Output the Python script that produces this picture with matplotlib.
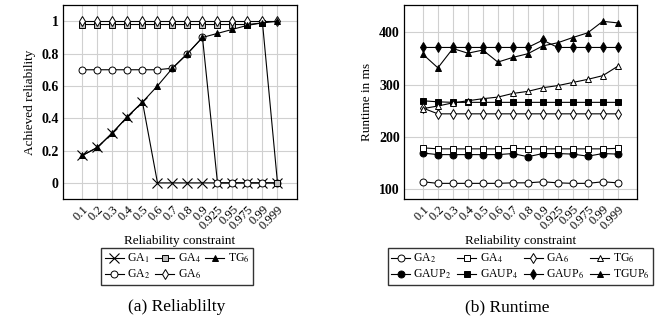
import matplotlib
matplotlib.use('Agg')
import matplotlib.pyplot as plt

plt.rcParams['font.family'] = ['Liberation Serif', 'DejaVu Serif']
plt.rcParams['mathtext.fontset'] = 'stix'

constraints = ['0.1', '0.2', '0.3', '0.4', '0.5', '0.6', '0.7', '0.8', '0.9',
               '0.925', '0.95', '0.975', '0.99', '0.999']

# achieved reliability
ga1_rel = [0.17, 0.22, 0.31, 0.41, 0.5, 0, 0, 0, 0, 0, 0, 0, 0, 0]
ga2_rel = [0.7, 0.7, 0.7, 0.7, 0.7, 0.7, 0.71, 0.8, 0.9, 0, 0, 0, 0, 0]
ga4_rel = [0.98, 0.98, 0.98, 0.98, 0.98, 0.98, 0.98, 0.98, 0.98, 0.98, 0.98, 0.98, 0.99, 0]
ga6_rel = [1, 1, 1, 1, 1, 1, 1, 1, 1, 1, 1, 1, 1, 1]
tg6_rel = [0.17, 0.22, 0.31, 0.41, 0.5, 0.6, 0.71, 0.8, 0.9, 0.925, 0.95, 0.975, 0.99, 1.0]

# runtime in ms
ga2_rt = [114, 111, 111, 111, 111, 111, 112, 112, 114, 112, 111, 111, 114, 112]
ga4_rt = [179, 177, 177, 177, 177, 177, 178, 177, 177, 177, 177, 177, 177, 178]
ga6_rt = [255, 244, 244, 244, 244, 244, 244, 244, 244, 244, 244, 244, 244, 244]
tg6_rt = [254, 259, 265, 269, 273, 276, 283, 287, 294, 298, 304, 310, 317, 335]
gaup2_rt = [169, 166, 166, 166, 166, 166, 168, 162, 168, 168, 167, 163, 168, 167]
gaup4_rt = [269, 267, 266, 266, 266, 266, 266, 266, 266, 266, 266, 266, 266, 266]
gaup6_rt = [371, 371, 371, 371, 371, 371, 371, 371, 385, 371, 371, 371, 371, 371]
tgup6_rt = [358, 332, 369, 360, 366, 343, 352, 359, 374, 380, 390, 399, 421, 418]

x = list(range(len(constraints)))
lw = 0.8
ms = 5

fig = plt.figure(figsize=(6.61, 3.2), dpi=100)
ax1 = fig.add_axes([0.0953, 0.378, 0.354, 0.606])
ax2 = fig.add_axes([0.611, 0.378, 0.353, 0.606])


def style(ax):
    ax.grid(True, color='#d0d0d0', linewidth=0.8)
    ax.set_axisbelow(True)
    ax.set_xticks(x)
    ax.set_xticklabels(constraints, rotation=45, ha='right', rotation_mode='anchor', fontsize=9)
    ax.tick_params(length=0, pad=3)
    for lab in ax.get_yticklabels():
        lab.set_fontweight('bold')
        lab.set_fontsize(10)
    for s in ax.spines.values():
        s.set_linewidth(0.9)
    ax.set_xlabel('Reliability constraint', fontsize=9.5, labelpad=2)


l1, = ax1.plot(x, ga1_rel, color='black', lw=lw, marker='x', ms=7.5, mew=0.8, label='GA$_1$')
l2, = ax1.plot(x, ga2_rel, color='black', lw=lw, marker='o', ms=ms, mfc='white', mew=0.7, label='GA$_2$')
l3, = ax1.plot(x, ga4_rel, color='black', lw=lw, marker='s', ms=ms, mfc='#bfbfbf', mew=0.7, label='GA$_4$')
l4, = ax1.plot(x, ga6_rel, color='black', lw=lw, marker='d', ms=ms, mfc='white', mew=0.7, label='GA$_6$')
l5, = ax1.plot(x, tg6_rel, color='black', lw=lw, marker='^', ms=ms, mfc='black', mew=0.7, label='TG$_6$')
ax1.set_xlim(-1.3, 14.3)
ax1.set_ylim(-0.1, 1.1)
ax1.set_yticks([0, 0.2, 0.4, 0.6, 0.8, 1])
ax1.set_yticklabels(['0', '0.2', '0.4', '0.6', '0.8', '1'])
ax1.set_ylabel('Achieved reliability', fontsize=9.5, labelpad=4)
style(ax1)
fig.legend(handles=[l1, l2, l3, l4, l5], ncol=3, loc='center', bbox_to_anchor=(0.268, 0.167),
           fontsize=8.5, frameon=True, fancybox=False, edgecolor='black', columnspacing=0.4,
           handlelength=1.6, handletextpad=0.3, borderpad=0.3, labelspacing=0.2)

r1, = ax2.plot(x, ga2_rt, color='black', lw=lw, marker='o', ms=ms, mfc='white', mew=0.7, label='GA$_2$')
r2, = ax2.plot(x, gaup2_rt, color='black', lw=lw, marker='o', ms=ms, mfc='black', mew=0.7, label='GAUP$_2$')
r3, = ax2.plot(x, ga4_rt, color='black', lw=lw, marker='s', ms=ms, mfc='white', mew=0.7, label='GA$_4$')
r4, = ax2.plot(x, gaup4_rt, color='black', lw=lw, marker='s', ms=ms, mfc='black', mew=0.7, label='GAUP$_4$')
r5, = ax2.plot(x, ga6_rt, color='black', lw=lw, marker='d', ms=ms, mfc='white', mew=0.7, label='GA$_6$')
r6, = ax2.plot(x, gaup6_rt, color='black', lw=lw, marker='d', ms=ms, mfc='black', mew=0.7, label='GAUP$_6$')
r7, = ax2.plot(x, tg6_rt, color='black', lw=lw, marker='^', ms=ms, mfc='white', mew=0.7, label='TG$_6$')
r8, = ax2.plot(x, tgup6_rt, color='black', lw=lw, marker='^', ms=ms, mfc='black', mew=0.7, label='TGUP$_6$')
ax2.set_xlim(-1.27, 14.3)
ax2.set_ylim(81, 452)
ax2.set_yticks([100, 200, 300, 400])
ax2.set_ylabel('Runtime in ms', fontsize=9.5, labelpad=4)
style(ax2)
fig.legend(handles=[r1, r2, r3, r4, r5, r6, r7, r8], ncol=4, loc='center', bbox_to_anchor=(0.787, 0.167),
           fontsize=8.5, frameon=True, fancybox=False, edgecolor='black', columnspacing=0.5,
           handlelength=1.6, handletextpad=0.3, borderpad=0.3, labelspacing=0.2)

fig.text(0.268, 0.04, '(a) Reliablilty', ha='center', va='center', fontsize=12.5)
fig.text(0.767, 0.04, '(b) Runtime', ha='center', va='center', fontsize=12.5)

fig.savefig('out.png', dpi=100)
